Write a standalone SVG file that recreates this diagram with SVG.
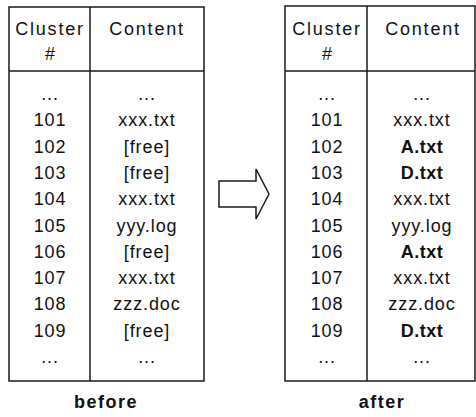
<svg xmlns="http://www.w3.org/2000/svg" width="476" height="417" viewBox="0 0 476 417">
  <style>
    .frame { fill: #ffffff; stroke: #1a1a1a; stroke-width: 1.5; }
    .rule { stroke: #1a1a1a; stroke-width: 1.5; fill: none; }
    text { font-family: "Liberation Sans", Arial, sans-serif; font-size: 18px; fill: #111111; text-anchor: middle; }
    .hd { letter-spacing: 1.8px; }
    .w { letter-spacing: 0.9px; }
    .b { font-weight: bold; letter-spacing: 0.5px; }
    .cap { font-weight: bold; letter-spacing: 1.5px; }
    .arrow { fill: #ffffff; stroke: #1a1a1a; stroke-width: 1.5; stroke-linejoin: miter; }
  </style>
  <rect width="476" height="417" fill="#ffffff"/>

  <!-- cluster table before the write -->
  <g id="table-before">
    <rect class="frame" x="9" y="7" width="195" height="374"/>
    <line class="rule" x1="90" y1="7" x2="90" y2="381"/>
    <line class="rule" x1="9" y1="71" x2="204" y2="71"/>
    <text class="hd" x="50" y="35">Cluster</text>
    <text x="50" y="60">#</text>
    <text class="hd" x="147" y="35">Content</text>
    <g class="w">
      <text x="50" y="100">...</text><text x="147" y="100">...</text>
      <text x="50" y="126">101</text><text x="147" y="126">xxx.txt</text>
      <text x="50" y="153">102</text><text x="147" y="153">[free]</text>
      <text x="50" y="179">103</text><text x="147" y="179">[free]</text>
      <text x="50" y="205">104</text><text x="147" y="205">xxx.txt</text>
      <text x="50" y="232">105</text><text x="147" y="232">yyy.log</text>
      <text x="50" y="258">106</text><text x="147" y="258">[free]</text>
      <text x="50" y="284">107</text><text x="147" y="284">xxx.txt</text>
      <text x="50" y="310">108</text><text x="147" y="310">zzz.doc</text>
      <text x="50" y="337">109</text><text x="147" y="337">[free]</text>
      <text x="50" y="363">...</text><text x="147" y="363">...</text>
    </g>
    <text class="cap" x="106" y="408">before</text>
  </g>

  <!-- transition arrow -->
  <g id="connectors">
    <polygon class="arrow" points="219,181 256,181 256,169 269,194 256,219 256,207 219,207"/>
  </g>

  <!-- cluster table after the write -->
  <g id="table-after">
    <rect class="frame" x="285" y="6" width="190" height="375"/>
    <line class="rule" x1="367" y1="6" x2="367" y2="381"/>
    <line class="rule" x1="285" y1="71" x2="475" y2="71"/>
    <text class="hd" x="327" y="35">Cluster</text>
    <text x="327" y="60">#</text>
    <text class="hd" x="423" y="35">Content</text>
    <g class="w">
      <text x="327" y="100">...</text><text x="422" y="100">...</text>
      <text x="327" y="126">101</text><text x="422" y="126">xxx.txt</text>
      <text x="327" y="153">102</text><text class="b" x="422" y="153">A.txt</text>
      <text x="327" y="179">103</text><text class="b" x="422" y="179">D.txt</text>
      <text x="327" y="205">104</text><text x="422" y="205">xxx.txt</text>
      <text x="327" y="232">105</text><text x="422" y="232">yyy.log</text>
      <text x="327" y="258">106</text><text class="b" x="422" y="258">A.txt</text>
      <text x="327" y="284">107</text><text x="422" y="284">xxx.txt</text>
      <text x="327" y="310">108</text><text x="422" y="310">zzz.doc</text>
      <text x="327" y="337">109</text><text class="b" x="422" y="337">D.txt</text>
      <text x="327" y="363">...</text><text x="422" y="363">...</text>
    </g>
    <text class="cap" x="382" y="408">after</text>
  </g>
</svg>
